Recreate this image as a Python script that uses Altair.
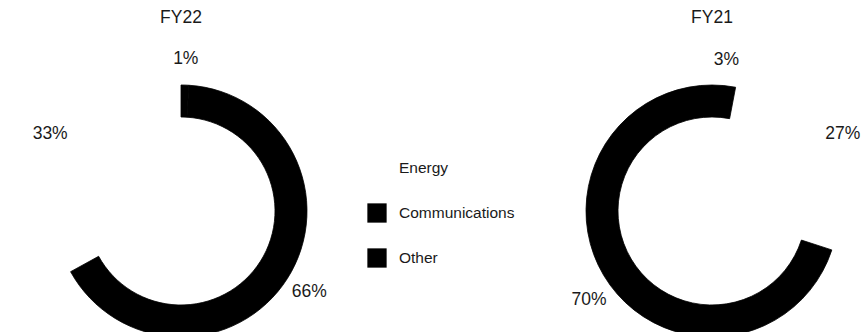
import altair as alt
import pandas as pd

# ---- data ----
categories = ["Energy", "Communications", "Other"]
fy22_values = [33, 66, 1]
fy21_values = [27, 70, 3]
# clockwise sequence of the slices, starting at 12 o'clock
fy22_sequence = [3, 2, 1]
fy21_sequence = [2, 3, 1]
years = ["FY22", "FY21"]
palette = ["#ffffff", "#000000", "#000000"]

FONT = "Liberation Sans"
TEXT = "#1a1a1a"

color_scale = alt.Scale(domain=categories, range=palette)
legend = alt.Legend(
    orient="none", legendX=367, legendY=158, title=None,
    symbolType="square", symbolSize=372, symbolStrokeWidth=0, symbolOpacity=1,
    labelFont=FONT, labelFontSize=15.5, labelColor=TEXT, labelOffset=12,
    rowPadding=25, padding=0,
)


def donut(year, values, sequence, cx, cy=211):
    df = pd.DataFrame({
        "category": categories,
        "value": values,
        "seq": sequence,
        "label": [f"{v}%" for v in values],
    })
    base = alt.Chart(df).encode(
        theta=alt.Theta("value:Q", stack=True),
        order=alt.Order("seq:Q", sort="ascending"),
        x=alt.value(cx),
        y=alt.value(cy),
    )
    arcs = base.mark_arc(innerRadius=94, outerRadius=126, strokeWidth=0.8).encode(
        color=alt.Color("category:N", scale=color_scale, legend=legend),
        stroke=alt.Stroke("category:N", scale=color_scale, legend=None),
    )
    labels = base.mark_text(radius=152, font=FONT, fontSize=17.5, color=TEXT).encode(
        text="label:N"
    )
    head = alt.Chart(pd.DataFrame({"year": [year]})).mark_text(
        font=FONT, fontSize=17.5, color=TEXT, baseline="alphabetic"
    ).encode(text="year:N", x=alt.value(cx), y=alt.value(23))
    return [arcs, labels, head]


layers = donut(years[0], fy22_values, fy22_sequence, 181) + donut(
    years[1], fy21_values, fy21_sequence, 712
)

chart = alt.layer(*layers).properties(
    width=866,
    height=332,
    padding=0,
    autosize=alt.AutoSizeParams(type="none"),
).configure_view(stroke=None)

chart.save("out.html", embed_options={"renderer": "svg", "actions": False})
